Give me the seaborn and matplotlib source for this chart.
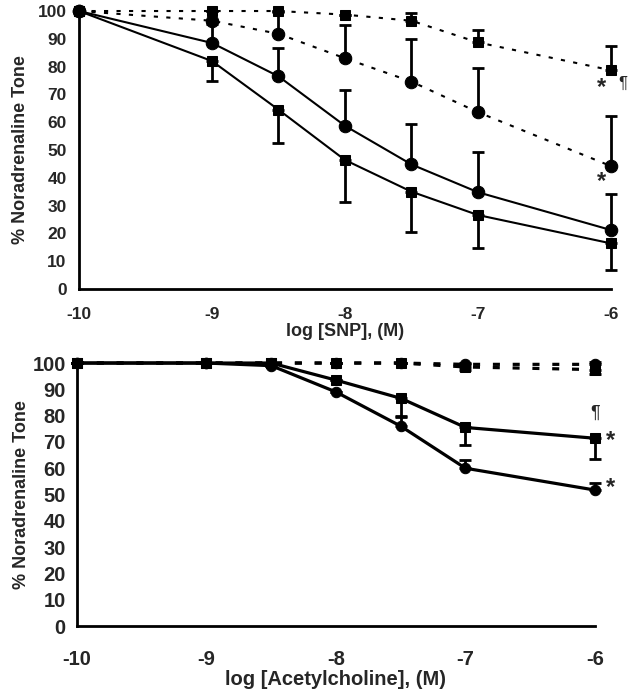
import numpy as np
import pandas as pd
import seaborn as sns
import matplotlib.pyplot as plt

# log concentrations
log_conc = [-10, -9, -8.5, -8, -7.5, -7, -6]

# SNP panel (solid = control, dotted = treated)
snp_sq_solid = [100, 82, 64.5, 46.4, 35, 26.6, 16.4]
snp_sq_solid_err = [0, 7, 12, 15, 14.5, 12, 9.4]
snp_ci_solid = [100, 88.5, 76.5, 58.7, 44.8, 34.8, 21.2]
snp_ci_solid_err = [0, 7, 10.3, 13, 14.6, 14.4, 13]
snp_sq_dot = [100, 100, 100, 98.7, 96.5, 88.7, 78.7]
snp_sq_dot_err = [0, 0, 0, 0, 2.7, 4.5, 8.7]
snp_ci_dot = [100, 96.5, 91.8, 83, 74.6, 63.6, 44.2]
snp_ci_dot_err = [0, 0, 8, 12, 15.4, 16, 18]

# Acetylcholine panel
ach_sq_solid = [100, 100, 100, 93.5, 86.6, 75.5, 71.4]
ach_sq_solid_err = [0, 0, 0, 0, 7, 6.5, 8]
ach_ci_solid = [100, 100, 99, 89, 76, 60, 51.7]
ach_ci_solid_err = [0, 0, 0, 0, 4, 3, 2.8]
ach_sq_dash = [100, 100, 100, 100, 100, 98.5, 97.5]
ach_sq_dash_err = [0, 0, 0, 0, 0, 1, 1.5]
ach_ci_dash = [100, 100, 100, 100, 100, 99.5, 99.5]
ach_ci_dash_err = [0, 0, 0, 0, 0, 0.5, 0.8]

y_ticks = list(range(0, 101, 10))
x_ticks = [-10, -9, -8, -7, -6]


def make_frame(series):
    """Builds a long dataframe for seaborn from a dict of series"""
    rows = []
    for name, (vals, marker, style) in series.items():
        for x, v in zip(log_conc, vals):
            rows.append({'logc': x, 'tone': v, 'group': name})
    return pd.DataFrame(rows)


def draw_panel(ax, series, errs, lw, dash, ms_sq, ms_ci, fs_tick, xpad, ypad):
    df = make_frame(series)
    for name, (vals, marker, style) in series.items():
        sub = df[df['group'] == name]
        ms = ms_sq if marker == 's' else ms_ci
        sns.lineplot(data=sub, x='logc', y='tone', ax=ax, color='black',
                     linewidth=lw, marker=marker, markersize=ms,
                     markeredgecolor='black', markerfacecolor='black',
                     clip_on=False, zorder=3, legend=False)
        line = ax.lines[-1]
        if style == 'dot':
            line.set_dashes(dash)
        e, direction = errs[name]
        e = np.array(e)
        if direction == 'up':
            yerr = [np.zeros_like(e), e]
        else:
            yerr = [e, np.zeros_like(e)]
        ax.errorbar(log_conc, vals, yerr=yerr, fmt='none', ecolor='black',
                    elinewidth=2, capsize=4, capthick=2, clip_on=False,
                    zorder=2)
    ax.set_xlim(-10, -6)
    ax.set_ylim(0, 100)
    ax.set_xticks(x_ticks)
    ax.set_yticks(y_ticks)
    ax.tick_params(axis='both', labelsize=fs_tick, width=2, length=4,
                   direction='out', color='black')
    ax.tick_params(axis='x', pad=xpad)
    ax.tick_params(axis='y', pad=ypad)
    for lab in ax.get_xticklabels() + ax.get_yticklabels():
        lab.set_fontweight('bold')
    for s in ['left', 'bottom']:
        ax.spines[s].set_linewidth(2)
        ax.spines[s].set_color('black')
    sns.despine(ax=ax)


sns.set_style('white')
plt.rcParams['font.family'] = ['Liberation Sans', 'DejaVu Sans']
plt.rcParams['axes.unicode_minus'] = False

fig = plt.figure(figsize=(6.3, 6.89), dpi=100)
ax1 = fig.add_axes([0.1254, 0.5806, 0.8444, 0.4034])
ax2 = fig.add_axes([0.1222, 0.0914, 0.8222, 0.3817])

top_series = {
    'sq_solid': (snp_sq_solid, 's', 'solid'),
    'ci_solid': (snp_ci_solid, 'o', 'solid'),
    'sq_dot': (snp_sq_dot, 's', 'dot'),
    'ci_dot': (snp_ci_dot, 'o', 'dot'),
}
top_errs = {
    'sq_solid': (snp_sq_solid_err, 'down'),
    'ci_solid': (snp_ci_solid_err, 'up'),
    'sq_dot': (snp_sq_dot_err, 'up'),
    'ci_dot': (snp_ci_dot_err, 'up'),
}
draw_panel(ax1, top_series, top_errs, 1.5, (2, 4), 6.5, 9, 12.5, 9, 5)
ax1.set_xlabel('log [SNP], (M)', fontsize=13, fontweight='bold', labelpad=1)
ax1.set_ylabel('% Noradrenaline Tone', fontsize=13, fontweight='bold',
               labelpad=6)
ax1.text(-6.07, 72.5, '*', fontsize=17, fontweight='bold', ha='center', va='center')
ax1.text(-5.91, 74, '¶', fontsize=12, ha='center', va='center')
ax1.text(-6.07, 38.5, '*', fontsize=17, fontweight='bold', ha='center', va='center')

bottom_series = {
    'sq_dash': (ach_sq_dash, 's', 'dot'),
    'ci_dash': (ach_ci_dash, 'o', 'dot'),
    'sq_solid': (ach_sq_solid, 's', 'solid'),
    'ci_solid': (ach_ci_solid, 'o', 'solid'),
}
bottom_errs = {
    'sq_dash': (ach_sq_dash_err, 'down'),
    'ci_dash': (ach_ci_dash_err, 'up'),
    'sq_solid': (ach_sq_solid_err, 'down'),
    'ci_solid': (ach_ci_solid_err, 'up'),
}
draw_panel(ax2, bottom_series, bottom_errs, 2.3, (2.2, 4), 7.5, 7.5, 14.5, 13, 4)
ax2.set_xlabel('log [Acetylcholine], (M)', fontsize=14.5, fontweight='bold',
               labelpad=1)
ax2.set_ylabel('% Noradrenaline Tone', fontsize=13, fontweight='bold',
               labelpad=2)
ax2.text(-6.0, 81, '¶', fontsize=13, ha='center', va='center')
ax2.text(-5.88, 70.5, '*', fontsize=17, fontweight='bold', ha='center', va='center')
ax2.text(-5.88, 52.5, '*', fontsize=17, fontweight='bold', ha='center', va='center')

fig.savefig('out.png', dpi=100)
